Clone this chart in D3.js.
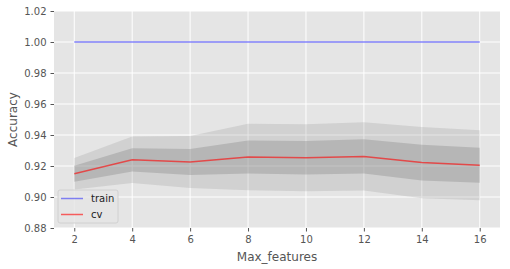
<!DOCTYPE html>
<html lang="en">
<head>
<meta charset="UTF-8">
<title>Accuracy vs Max_features</title>
<script src="https://d3js.org/d3.v7.min.js"></script>
<style>
  body { margin: 0; background: #fff; }
  svg text { font-family: "DejaVu Sans", sans-serif; }
</style>
</head>
<body>
<div id="chart"></div>
<script>
// data
var maxFeatures = [2, 4, 6, 8, 10, 12, 14, 16];
var trainMean = [1.0, 1.0, 1.0, 1.0, 1.0, 1.0, 1.0, 1.0];
var trainStd = [0.0001, 0.0001, 0.0001, 0.0001, 0.0001, 0.0001, 0.0001, 0.0001];
var cvMean = [0.915, 0.924, 0.9226, 0.9258, 0.9253, 0.9262, 0.9222, 0.9205];
var cvStd = [0.0051, 0.0075, 0.0084, 0.0107, 0.0108, 0.011, 0.0115, 0.0113];
var yTicks = [0.88, 0.90, 0.92, 0.94, 0.96, 0.98, 1.00, 1.02];

var W = 510, H = 269;
var margin = { top: 11, right: 10, bottom: 41, left: 54 };
var width = W - margin.left - margin.right;
var height = H - margin.top - margin.bottom;

var svg = d3.select("#chart").append("svg")
    .attr("width", W)
    .attr("height", H);

var g = svg.append("g")
    .attr("transform", "translate(" + margin.left + "," + margin.top + ")");

var x = d3.scaleLinear().domain([1.3, 16.7]).range([0, width]);
var y = d3.scaleLinear().domain([0.88, 1.02]).range([height, 0]);

g.append("rect")
    .attr("width", width)
    .attr("height", height)
    .attr("fill", "#e5e5e5");

// grid
g.selectAll(".gx").data(maxFeatures).enter().append("line")
    .attr("x1", function(d) { return x(d); })
    .attr("x2", function(d) { return x(d); })
    .attr("y1", 0).attr("y2", height)
    .attr("stroke", "#fff").attr("stroke-width", 1);
g.selectAll(".gy").data(yTicks).enter().append("line")
    .attr("y1", function(d) { return y(d); })
    .attr("y2", function(d) { return y(d); })
    .attr("x1", 0).attr("x2", width)
    .attr("stroke", "#fff").attr("stroke-width", 1);

function band(mean, std, k) {
    return d3.area()
        .x(function(d, i) { return x(maxFeatures[i]); })
        .y0(function(d, i) { return y(mean[i] - k * std[i]); })
        .y1(function(d, i) { return y(mean[i] + k * std[i]); })(mean);
}

var line = d3.line()
    .x(function(d, i) { return x(maxFeatures[i]); })
    .y(function(d) { return y(d); });

// std bands
g.append("path").attr("d", band(cvMean, cvStd, 2)).attr("fill", "#808080").attr("fill-opacity", 0.2);
g.append("path").attr("d", band(cvMean, cvStd, 1)).attr("fill", "#808080").attr("fill-opacity", 0.33);
g.append("path").attr("d", band(trainMean, trainStd, 2)).attr("fill", "#8080ff").attr("fill-opacity", 0.2);

g.append("path").attr("d", line(trainMean))
    .attr("fill", "none").attr("stroke", "#0000ff").attr("stroke-opacity", 0.45).attr("stroke-width", 1.5);
g.append("path").attr("d", line(cvMean))
    .attr("fill", "none").attr("stroke", "#ff0000").attr("stroke-opacity", 0.6).attr("stroke-width", 1.5);

// axes
var xAxis = g.append("g")
    .attr("transform", "translate(0," + height + ")")
    .call(d3.axisBottom(x).tickValues(maxFeatures).tickSize(3.5).tickPadding(4));
var yAxis = g.append("g")
    .call(d3.axisLeft(y).tickValues(yTicks).tickFormat(d3.format(".2f")).tickSize(3.5).tickPadding(4));

[xAxis, yAxis].forEach(function(a) {
    a.select(".domain").remove();
    a.selectAll("line").attr("stroke", "#555");
    a.selectAll("text").attr("fill", "#555").style("font-size", "10px");
});

svg.append("text")
    .attr("x", margin.left + width / 2)
    .attr("y", 261)
    .attr("text-anchor", "middle")
    .attr("fill", "#555")
    .style("font-size", "12px")
    .text("Max_features");

svg.append("text")
    .attr("transform", "translate(17," + (margin.top + height / 2) + ") rotate(-90)")
    .attr("text-anchor", "middle")
    .attr("fill", "#555")
    .style("font-size", "12px")
    .text("Accuracy");

// legend
var legend = svg.append("g").attr("transform", "translate(58,190)");
legend.append("rect")
    .attr("width", 60).attr("height", 33).attr("rx", 2)
    .attr("fill", "#e5e5e5").attr("fill-opacity", 0.8)
    .attr("stroke", "#d0d0d0");
var items = [
    { name: "train", color: "#0000ff", op: 0.45 },
    { name: "cv", color: "#ff0000", op: 0.6 }
];
items.forEach(function(it, i) {
    var yy = 8.5 + i * 16;
    legend.append("line")
        .attr("x1", 3).attr("x2", 25).attr("y1", yy).attr("y2", yy)
        .attr("stroke", it.color).attr("stroke-opacity", it.op).attr("stroke-width", 1.5);
    legend.append("text")
        .attr("x", 33).attr("y", yy + 3.5)
        .attr("fill", "#222")
        .style("font-size", "10px")
        .text(it.name);
});
</script>
</body>
</html>
